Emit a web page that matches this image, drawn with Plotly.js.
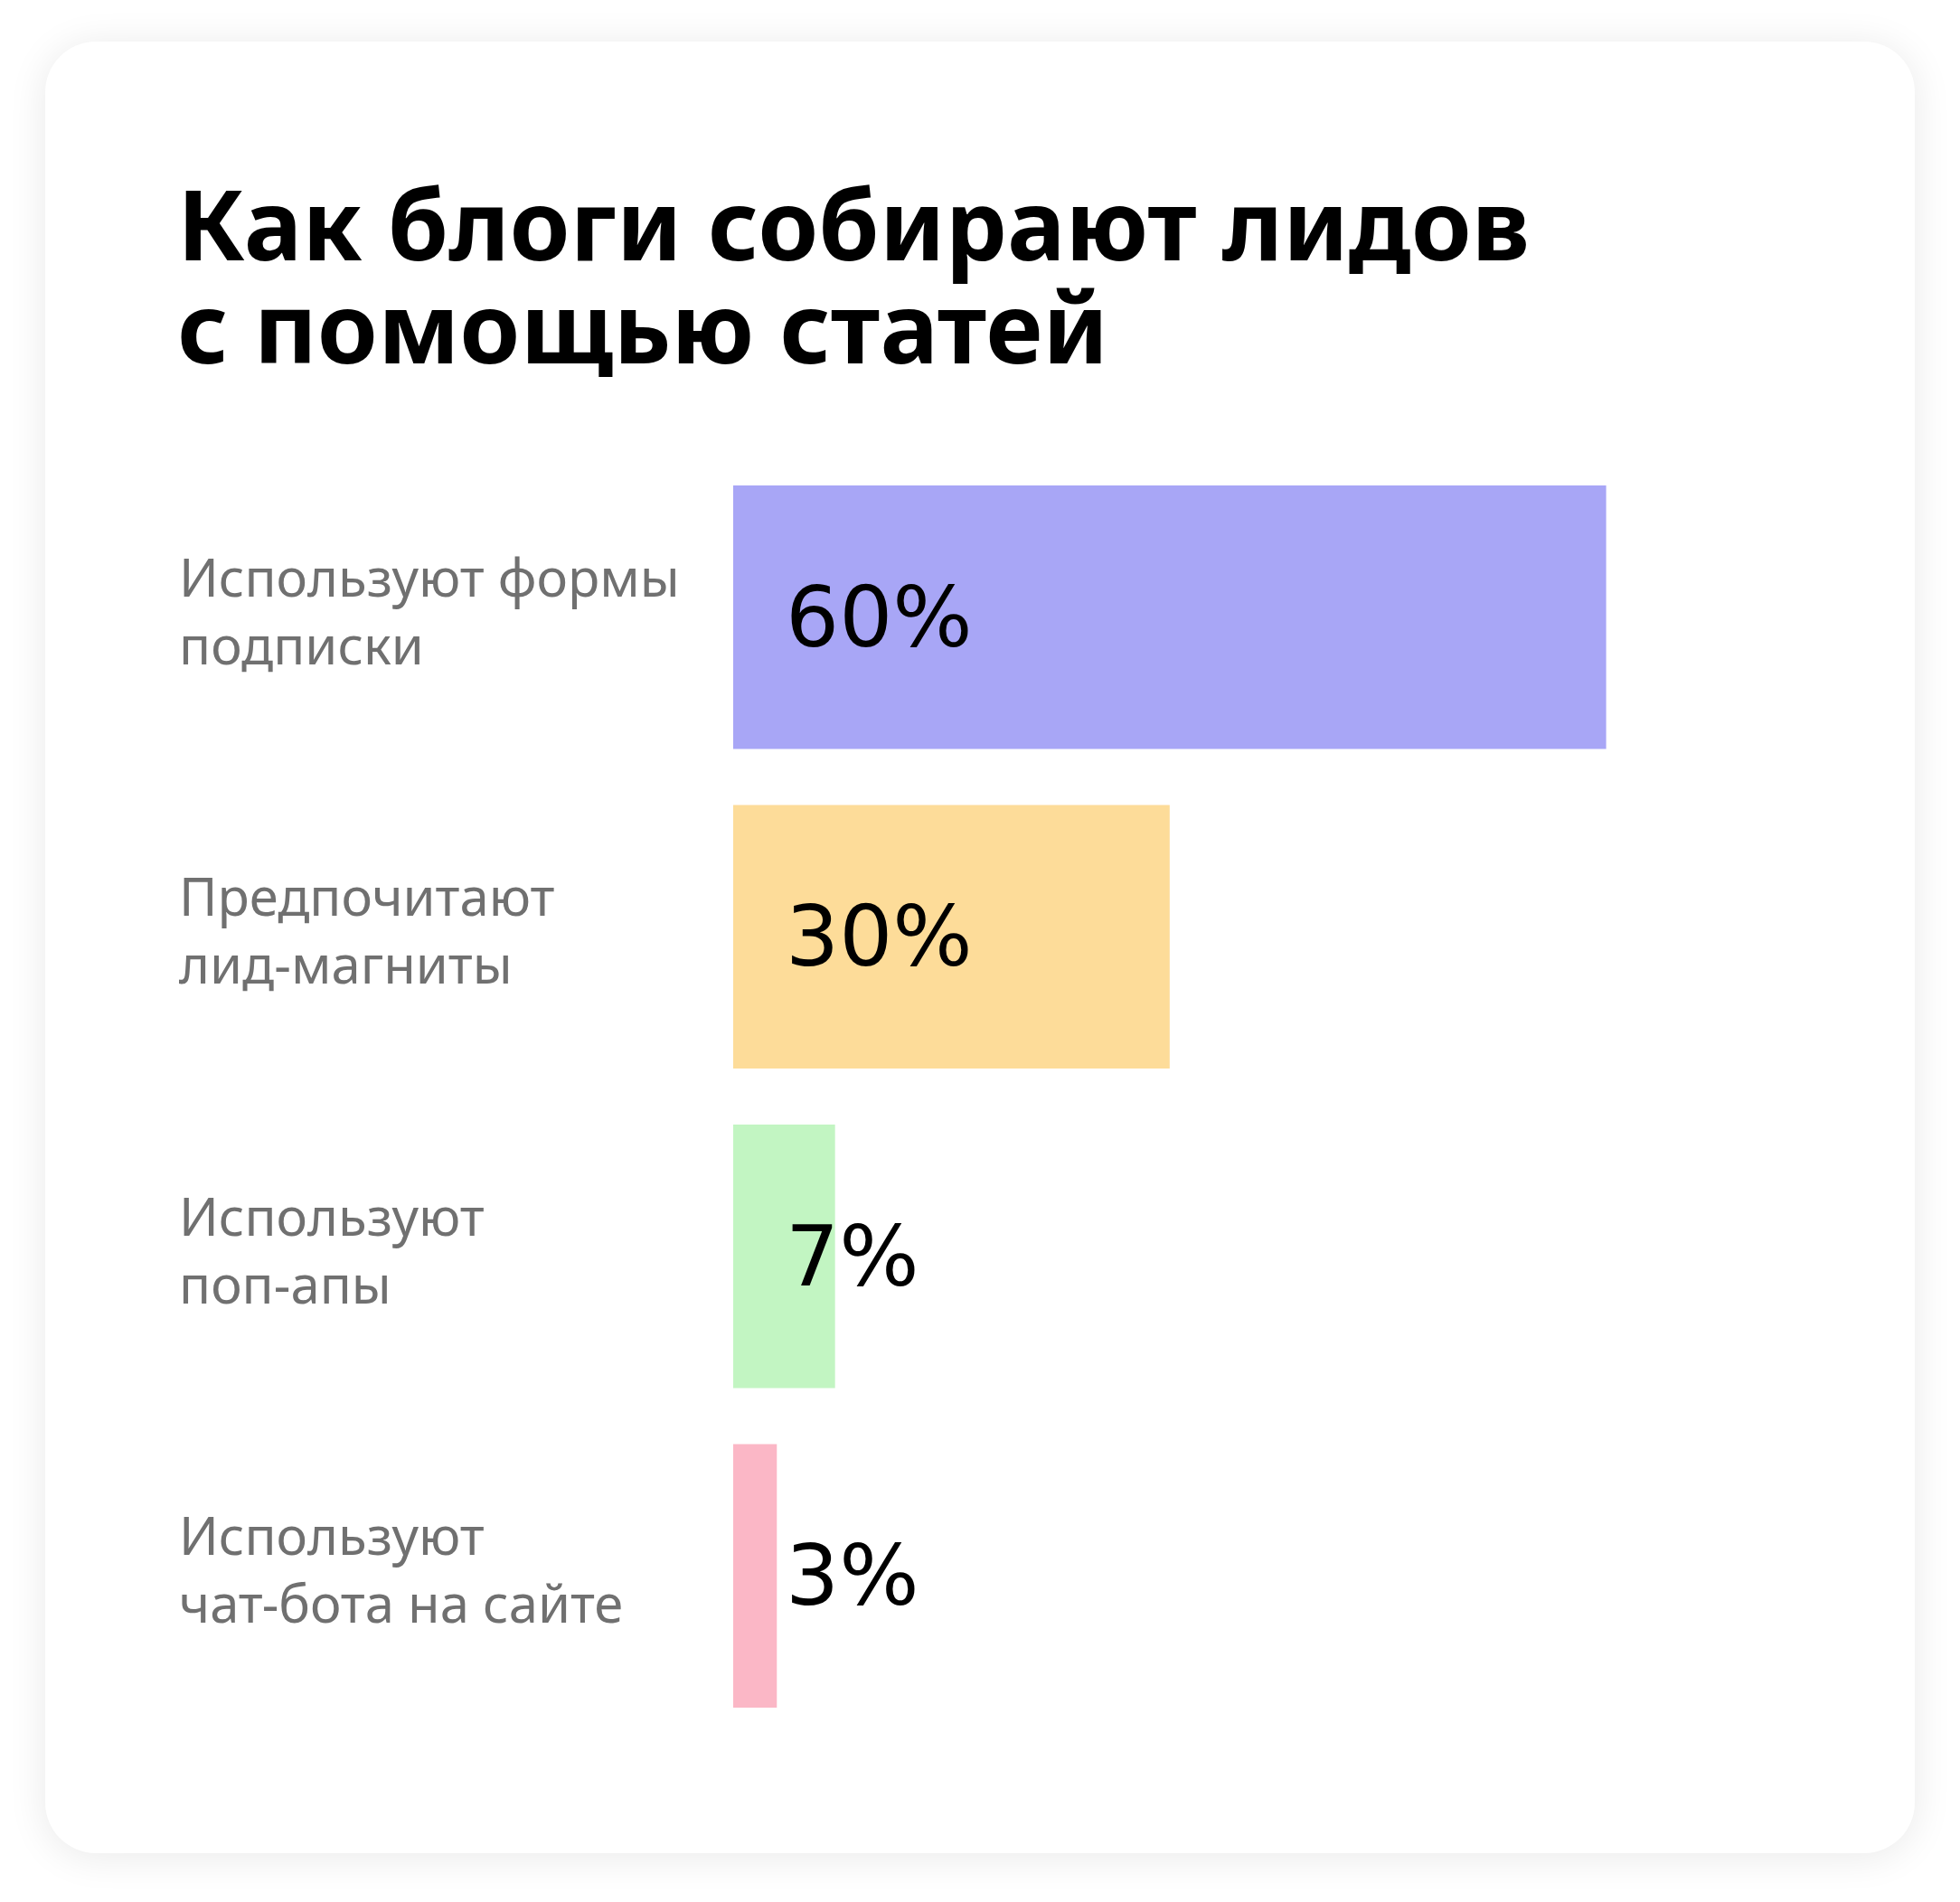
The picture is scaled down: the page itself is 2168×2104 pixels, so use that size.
<!DOCTYPE html>
<html>
<head>
<meta charset="utf-8">
<script src="https://cdn.plot.ly/plotly-3.0.1.min.js"></script>
<style>
  html, body { margin: 0; padding: 0; background: #ffffff; }
  #card {
    position: absolute; left: 50px; top: 46px; width: 2068px; height: 2004px;
    background: #ffffff; border-radius: 56px;
    box-shadow: 0 4px 44px rgba(0, 0, 0, 0.09);
  }
  #chart { position: absolute; left: 0; top: 0; width: 2168px; height: 2104px; }
</style>
</head>
<body>
<div id="card"></div>
<div id="chart"></div>
<script>
// Lead collection methods in blogs
var categories = ['Используют формы<br>подписки',
  'Предпочитают<br>лид-магниты',
  'Используют<br>поп-апы',
  'Используют<br>чат-бота на сайте'];
var shares = [60, 30, 7, 3];
var barColors = ['#a8a6f6', '#fddc99', '#c2f5c2', '#fbb7c6'];

var shareText = shares.map(function(v) {
  return v + '%';
});

var trace = {
  type: 'bar',
  orientation: 'h',
  x: shares,
  y: categories,
  marker: { color: barColors },
  hoverinfo: 'none'
};

var annotations = [];
categories.forEach(function(cat, i) {
  // category label on the left
  annotations.push({
    xref: 'paper', yref: 'y', x: 0, y: cat,
    xanchor: 'left', yanchor: 'middle',
    xshift: -615, yshift: 8,
    text: cat, showarrow: false, align: 'left',
    font: { family: 'Noto Sans', size: 58, color: '#707070' }
  });
  // value inside the bar
  annotations.push({
    xref: 'x', yref: 'y', x: 0, y: cat,
    xanchor: 'left', yanchor: 'middle', xshift: 56, yshift: 0,
    text: shareText[i], showarrow: false,
    font: { family: 'DejaVu Sans', size: 93, color: '#000000' }
  });
});

// second title line (tighter spacing than a <br> would give)
annotations.push({
  xref: 'paper', yref: 'paper', x: 0, y: (1920 - 360) / 1414,
  xanchor: 'left', yanchor: 'middle', xshift: -617,
  text: '<b>с помощью статей</b>', showarrow: false,
  font: { family: 'Noto Sans', size: 108, color: '#000000' }
});

var layout = {
  width: 2168,
  height: 2104,
  paper_bgcolor: 'rgba(0,0,0,0)',
  plot_bgcolor: 'rgba(0,0,0,0)',
  showlegend: false,
  title: {
    text: '<b>Как блоги собирают лидов</b>',
    xref: 'container', yref: 'container',
    x: 196 / 2168, xanchor: 'left',
    y: (2104 - 250) / 2104, yanchor: 'middle',
    font: { family: 'Noto Sans', size: 108, color: '#000000' }
  },
  margin: { l: 811, r: 150, t: 506, b: 184 },
  bargap: 0.176,
  xaxis: {
    range: [0, 75],
    showgrid: false, zeroline: false, showticklabels: false, showline: false
  },
  yaxis: {
    autorange: 'reversed',
    showgrid: false, zeroline: false, showticklabels: false, showline: false
  },
  annotations: annotations
};

Plotly.newPlot('chart', [trace], layout, { staticPlot: true });
</script>
</body>
</html>
